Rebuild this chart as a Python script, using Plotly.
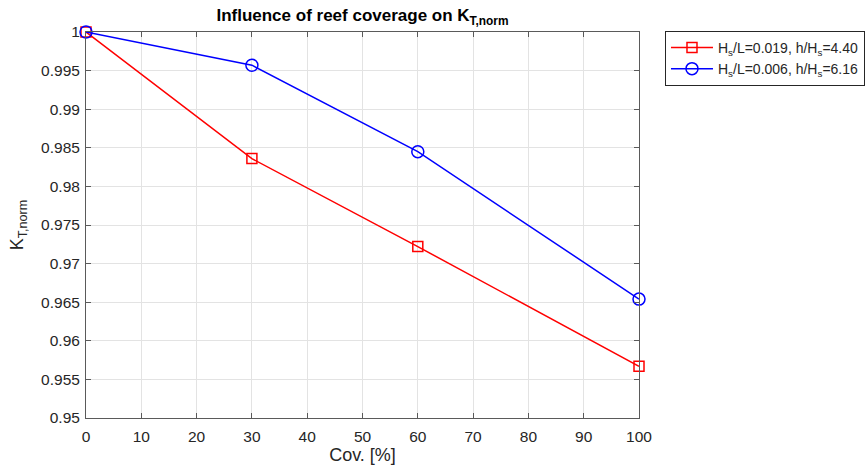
import plotly.graph_objects as go

# Reef coverage [%] and normalised transmission coefficient for two wave conditions
coverage = [0, 30, 60, 100]
kt_steep = [1.0, 0.9836, 0.9722, 0.9567]
kt_mild = [1.0, 0.9957, 0.9845, 0.9654]

name_steep = "H<sub>s</sub>/L=0.019, h/H<sub>s</sub>=4.40"
name_mild = "H<sub>s</sub>/L=0.006, h/H<sub>s</sub>=6.16"

x_ticks = list(range(0, 101, 10))
y_ticks = [0.95, 0.955, 0.96, 0.965, 0.97, 0.975, 0.98, 0.985, 0.99, 0.995, 1.0]
y_tick_text = ["0.95", "0.955", "0.96", "0.965", "0.97", "0.975", "0.98", "0.985", "0.99", "0.995", "1"]

FONT = "Liberation Sans, Arial, sans-serif"
AXIS_COL = "#5a5a5a"
TEXT_COL = "#262626"

fig = go.Figure()
fig.add_trace(go.Scatter(
    x=coverage, y=kt_steep, mode="lines+markers", name=name_steep,
    line=dict(color="#ff0000", width=1.5), cliponaxis=False,
    marker=dict(symbol="square-open", size=10, color="#ff0000", line=dict(width=1.5)),
))
fig.add_trace(go.Scatter(
    x=coverage, y=kt_mild, mode="lines+markers", name=name_mild,
    line=dict(color="#0000ff", width=1.5), cliponaxis=False,
    marker=dict(symbol="circle-open", size=12, color="#0000ff", line=dict(width=1.5)),
))

axis_common = dict(
    showline=True, mirror="ticks", linecolor=AXIS_COL, linewidth=1,
    ticks="inside", ticklen=5, tickcolor=AXIS_COL, tickwidth=1,
    showgrid=True, gridcolor="#e3e3e3", gridwidth=1, zeroline=False,
    tickfont=dict(family=FONT, size=15.5, color=TEXT_COL),
    automargin=False,
)

fig.update_layout(
    width=866, height=470,
    margin=dict(l=86, r=227, t=32, b=52, autoexpand=False),
    paper_bgcolor="white", plot_bgcolor="white",
    font=dict(family=FONT, color=TEXT_COL),
    title=dict(
        text="<b>Influence of reef coverage on K<sub>T,norm</sub></b>",
        x=(86 + 639) / 2 / 866, xanchor="center", y=1 - 15 / 470, yanchor="middle",
        font=dict(family=FONT, size=17, color="#000000"),
    ),
    xaxis=dict(
        range=[0, 100], tickvals=x_ticks, ticklabelstandoff=4,
        title=dict(text="Cov. [%]", font=dict(family=FONT, size=18, color=TEXT_COL), standoff=4),
        **axis_common,
    ),
    yaxis=dict(
        range=[0.95, 1.0], tickvals=y_ticks, ticktext=y_tick_text,
        title=dict(text="K<sub>T,norm</sub>", font=dict(family=FONT, size=18, color=TEXT_COL), standoff=12),
        ticklabelstandoff=2,
        **axis_common,
    ),
    legend=dict(
        x=1.047, y=1.003, xanchor="left", yanchor="top",
        bordercolor=TEXT_COL, borderwidth=1, bgcolor="white",
        font=dict(family=FONT, size=14, color=TEXT_COL),
        tracegroupgap=0, itemwidth=42,
    ),
)

fig.write_html("out.html")
